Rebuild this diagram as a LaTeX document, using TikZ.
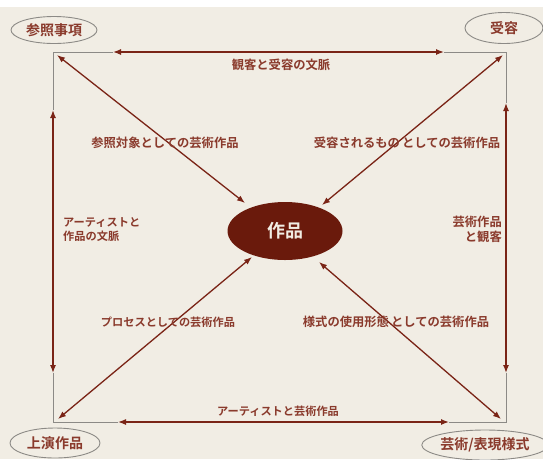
\documentclass[tikz,border=0pt]{standalone}
\usepackage{fontspec}
\newfontfamily\jp{Noto Sans CJK JP}[BoldFont={Noto Sans CJK JP Bold}]
\usetikzlibrary{arrows.meta,shapes.geometric}
\definecolor{bg}{HTML}{F1EDE4}
\definecolor{txt}{HTML}{8A3A2C}
\definecolor{arr}{HTML}{7A2416}
\definecolor{core}{HTML}{6A1A0C}
\definecolor{frame}{HTML}{8C8A86}
\tikzset{
  lbl/.style={text=txt,font=\jp\bfseries\fontsize{12.3}{15}\selectfont,inner sep=0pt},
  lblk/.style={text=txt,font=\jp\bfseries\fontsize{11.2}{14}\selectfont,inner sep=0pt},
  corner/.style={draw=frame,line width=0.9pt,ellipse,text=txt,font=\jp\bfseries\fontsize{14}{16}\selectfont,inner sep=0pt},
  dbl/.style={arr,line width=1.3pt,{Latex[length=8pt,width=6pt]}-{Latex[length=8pt,width=6pt]}},
  gray/.style={frame,line width=1pt}
}
\begin{document}
\begin{tikzpicture}[x=1pt,y=-1pt]
\useasboundingbox (0,0) rectangle (543,459);
\fill[white] (0,0) rectangle (543,459);
\fill[bg] (0,7) rectangle (543,459);
% frame corners
\coordinate (TL) at (53,52);
\coordinate (TR) at (506,52);
\coordinate (BL) at (53,422);
\coordinate (BR) at (506,422);
% arrow ends on frame
\coordinate (tA) at (113,52);
\coordinate (tB) at (444,52);
\coordinate (lA) at (53,110);
\coordinate (lB) at (53,373);
\coordinate (rA) at (506,103);
\coordinate (rB) at (506,373);
\coordinate (bA) at (118,422);
\coordinate (bB) at (449,422);
% gray frame pieces
\draw[gray] (tA) -- (TL) -- (lA);
\draw[gray] (tB) -- (TR) -- (rA);
\draw[gray] (lB) -- (BL) -- (bA);
\draw[gray] (rB) -- (BR) -- (bB);
% brown frame arrows
\draw[dbl] (tA) -- (tB);
\draw[dbl] (lA) -- (lB);
\draw[dbl] (rA) -- (rB);
\draw[dbl] (bA) -- (bB);
% center
\node[ellipse,fill=core,minimum width=115pt,minimum height=58pt,inner sep=0pt,text=bg,font=\jp\bfseries\fontsize{18}{20}\selectfont] (work) at (285,231) {作品};
% diagonal ends
\coordinate (d1a) at (57,55);
\coordinate (d1b) at (245,203);
\coordinate (d2a) at (503,55);
\coordinate (d2b) at (322,205);
\coordinate (d3a) at (58,419);
\coordinate (d3b) at (252,257);
\coordinate (d4a) at (501,419);
\coordinate (d4b) at (319,262);
\draw[dbl] (d1a) -- (d1b);
\draw[dbl] (d2a) -- (d2b);
\draw[dbl] (d3a) -- (d3b);
\draw[dbl] (d4a) -- (d4b);
% corner ellipses
\node[corner,minimum width=86pt,minimum height=27pt] (ref) at (54,30) {参照事項};
\node[corner,minimum width=78pt,minimum height=31pt] (rec) at (504,28) {受容};
\node[corner,minimum width=90pt,minimum height=30pt] (perf) at (55,443) {上演作品};
\node[corner,minimum width=111pt,minimum height=30pt] (style) at (485,445) {芸術/表現様式};
% labels
\node[lbl] (l1) at (281,65) {観客と受容の文脈};
\node[lbl] (l2) at (165,143) {参照対象としての芸術作品};
\node[lbl] (l3) at (407,143) {受容されるもの\,としての芸術作品};
\node[lblk,anchor=west,align=left] (l4) at (63,230) {アーティストと\\作品の文脈};
\node[lbl,anchor=east,align=right] (l5) at (502,229) {芸術作品\\と観客};
\node[lblk] (l6) at (168,322) {プロセスとしての芸術作品};
\node[lbl] (l7) at (396,322) {様式の使用形態\,としての芸術作品};
\node[lblk] (l8) at (278,411) {アーティストと芸術作品};
\end{tikzpicture}
\end{document}
